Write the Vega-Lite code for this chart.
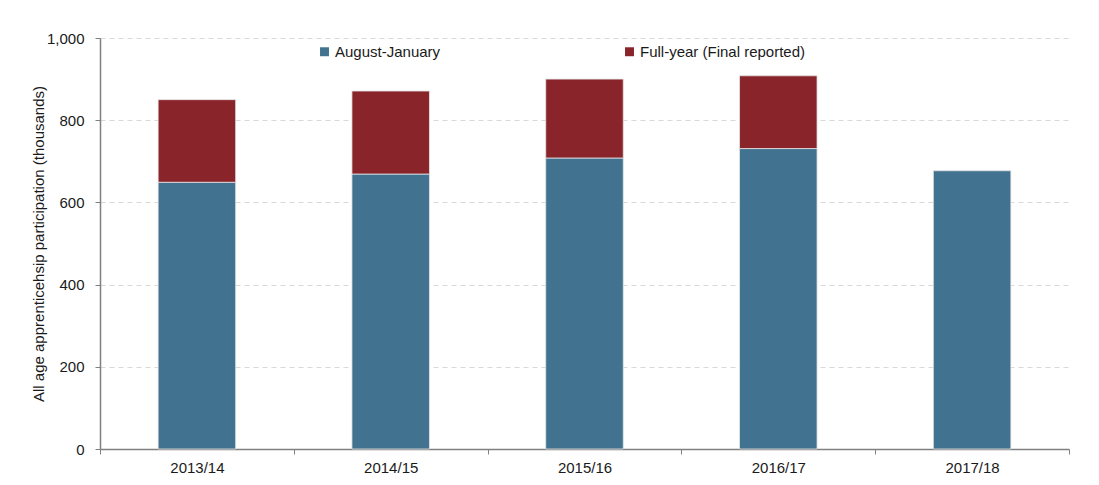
{
  "$schema": "https://vega.github.io/schema/vega-lite/v6.json",
  "width": 969,
  "height": 411,
  "autosize": "none",
  "padding": {"left": 100, "top": 38, "right": 30, "bottom": 36},
  "background": "white",
  "config": {
    "font": "Liberation Sans",
    "view": {"stroke": null},
    "axis": {"labelFont": "Liberation Sans", "titleFont": "Liberation Sans", "labelColor": "#1a1a1a", "titleColor": "#1a1a1a", "labelFontSize": 15, "titleFontWeight": "normal"}
  },
  "data": {
    "values": [
      {"year": "2013/14", "series": "August-January", "low": 0, "high": 649},
      {"year": "2014/15", "series": "August-January", "low": 0, "high": 669},
      {"year": "2015/16", "series": "August-January", "low": 0, "high": 708},
      {"year": "2016/17", "series": "August-January", "low": 0, "high": 731},
      {"year": "2017/18", "series": "August-January", "low": 0, "high": 677},
      {"year": "2013/14", "series": "Full-year (Final reported)", "low": 649, "high": 850},
      {"year": "2014/15", "series": "Full-year (Final reported)", "low": 669, "high": 871},
      {"year": "2015/16", "series": "Full-year (Final reported)", "low": 708, "high": 900},
      {"year": "2016/17", "series": "Full-year (Final reported)", "low": 731, "high": 908}
    ]
  },
  "mark": {"type": "bar", "stroke": "#e4e4e4", "strokeWidth": 0.8, "width": {"band": 0.4}},
  "encoding": {
    "x": {
      "field": "year", "type": "nominal", "title": null, "sort": null,
      "scale": {"paddingInner": 0, "paddingOuter": 0},
      "axis": {"labelAngle": 0, "domainColor": "#808080", "domainWidth": 1.5, "tickColor": "#808080", "tickSize": 5, "tickBand": "extent", "labelPadding": 6, "labelFontSize": 15}
    },
    "y": {
      "field": "high", "type": "quantitative",
      "title": "All age apprenticehsip participation (thousands)",
      "scale": {"domain": [0, 1000], "nice": false},
      "axis": {"values": [0, 200, 400, 600, 800, 1000], "format": ",d", "domainColor": "#808080", "domainWidth": 1.5, "tickColor": "#808080", "tickSize": 5, "labelPadding": 11, "gridColor": "#d9d9d9", "gridDash": [5, 4], "titleFontSize": 15, "titlePadding": 0}
    },
    "y2": {"field": "low"},
    "color": {
      "field": "series", "type": "nominal",
      "scale": {"domain": ["August-January", "Full-year (Final reported)"], "range": ["#41728f", "#89242a"]},
      "legend": {"title": null, "orient": "none", "legendX": 217, "legendY": 6, "direction": "horizontal", "symbolType": "square", "symbolSize": 80, "symbolStrokeWidth": 0, "labelFontSize": 15, "labelColor": "#1a1a1a", "labelFont": "Liberation Sans", "labelLimit": 400, "columnPadding": 181, "labelOffset": 3}
    }
  }
}
